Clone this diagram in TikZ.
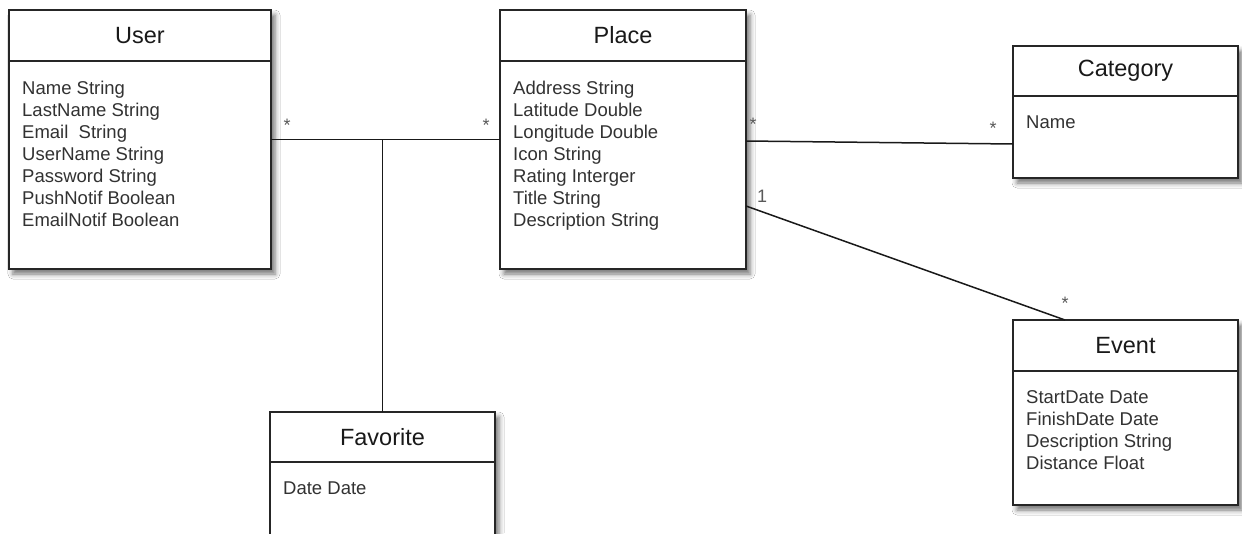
\documentclass[tikz,border=0pt]{standalone}
\usepackage{fontspec}
\setmainfont{Liberation Sans}
\usetikzlibrary{shadows.blur,calc}
\definecolor{txt}{RGB}{50,50,50}
\definecolor{ttl}{RGB}{25,25,25}
\begin{document}
\begin{tikzpicture}[x=1pt,y=-1pt,
  cls/.style={draw=black!85, line width=1.8pt, fill=white, outer sep=0pt, inner sep=0pt, anchor=north west,
    blur shadow={shadow xshift=4pt, shadow yshift=-5pt, shadow blur radius=5pt, shadow opacity=55}},
  hline/.style={draw=black!85, line width=1.8pt},
  title/.style={font=\fontsize{23.5}{26}\selectfont, text=ttl, inner sep=0pt},
  attr/.style={font=\fontsize{18.5}{22}\selectfont, text=txt, align=left, anchor=north west, inner sep=0pt},
  conn/.style={draw=black!90, line width=1.5pt},
  mult/.style={font=\fontsize{18}{20}\selectfont, text=black!65, inner sep=0pt}]
\useasboundingbox (0,0) rectangle (1242,533);
\clip (0,0) rectangle (1242,533);
\fill[white] (0,0) rectangle (1242,533);

% boxes
\node[cls, minimum width=262pt, minimum height=259pt] (user) at (9,10) {};
\node[cls, minimum width=246pt, minimum height=259pt] (place) at (500,10) {};
\node[cls, minimum width=225pt, minimum height=132pt] (category) at (1013,46) {};
\node[cls, minimum width=225pt, minimum height=185pt] (event) at (1013,320) {};
\node[cls, minimum width=225pt, minimum height=150pt] (favorite) at (270,412) {};

% header separators
\draw[hline] (user.west |- 0,61) -- (user.east |- 0,61);
\draw[hline] (place.west |- 0,61) -- (place.east |- 0,61);
\draw[hline] (category.west |- 0,96) -- (category.east |- 0,96);
\draw[hline] (event.west |- 0,371) -- (event.east |- 0,371);
\draw[hline] (favorite.west |- 0,462) -- (favorite.east |- 0,462);

% titles
\node[title] (usert) at (140,35.5) {User};
\node[title] (placet) at (623,35.5) {Place};
\node[title] (categoryt) at (1125.5,71) {Category};
\node[title] (eventt) at (1125.5,345.5) {Event};
\node[title] (favoritet) at (382.5,437) {Favorite};

% attributes
\node[attr] (usera) at (22,80.5) {Name String\\LastName String\\Email\ \ String\\UserName String\\Password String\\PushNotif Boolean\\EmailNotif Boolean};
\node[attr] (placea) at (513,80.5) {Address String\\Latitude Double\\Longitude Double\\Icon String\\Rating Interger\\Title String\\Description String};
\node[attr] (categorya) at (1026,116) {Name};
\node[attr] (eventa) at (1026,390) {StartDate Date\\FinishDate Date\\Description String\\Distance Float};
\node[attr] (favoritea) at (283,482) {Date Date};

% connectors
\coordinate (fj) at (favorite.north |- user.east);
\draw[conn] (user.east) -- (place.west);
\draw[conn] (favorite.north) -- (fj);
\draw[conn] ([yshift=-1.5pt]place.east) -- ([yshift=-32pt]category.west);
\draw[conn] ([yshift=-66.5pt]place.east) -- ([xshift=-60.5pt]event.north);

% multiplicities
\node[mult] (m1) at (287,125) {*};
\node[mult] (m2) at (486,125) {*};
\node[mult] (m3) at (753,124) {*};
\node[mult] (m4) at (993,128) {*};
\node[mult] (m5) at (762,196) {1};
\node[mult] (m6) at (1065,303) {*};
\end{tikzpicture}
\end{document}
